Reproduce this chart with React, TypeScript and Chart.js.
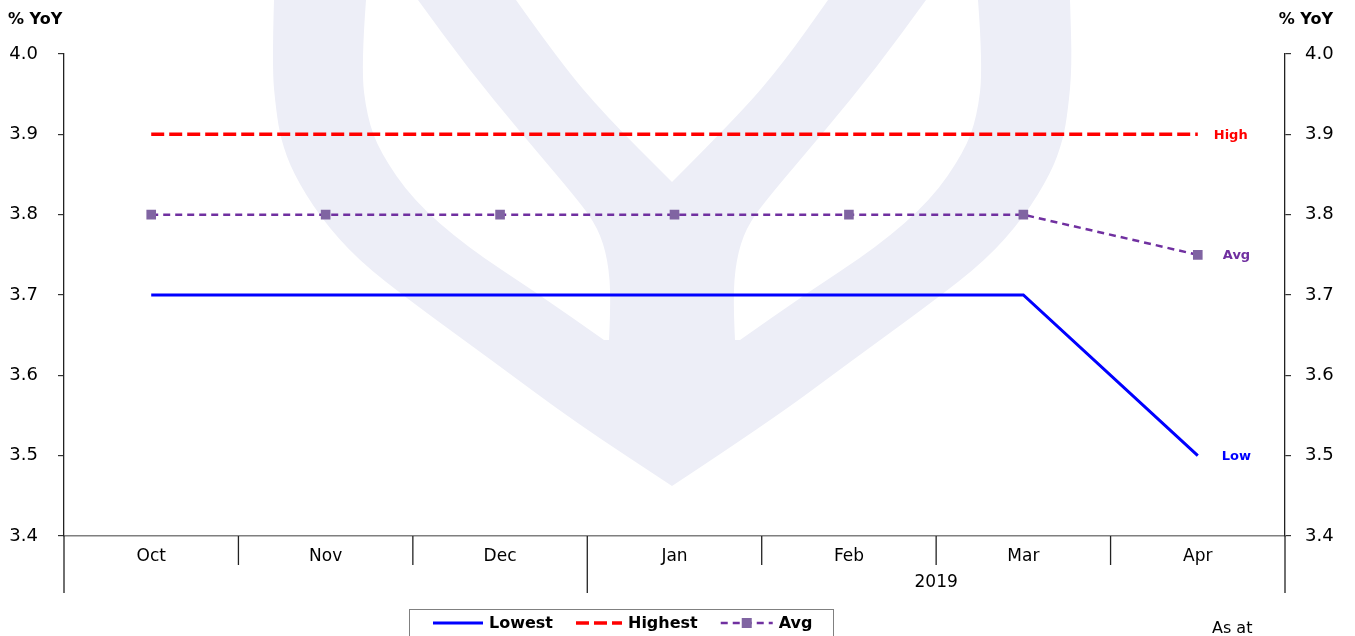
import React, { useEffect, useRef } from "react";
import { Chart, registerables } from "chart.js";

Chart.register(...registerables);

const categories = ["Oct", "Nov", "Dec", "Jan", "Feb", "Mar", "Apr"];
const lowestValues = [3.7, 3.7, 3.7, 3.7, 3.7, 3.7, 3.5];
const highestValues = [3.9, 3.9, 3.9, 3.9, 3.9, 3.9, 3.9];
const avgValues = [3.8, 3.8, 3.8, 3.8, 3.8, 3.8, 3.75];
const seriesNames = ["Lowest", "Highest", "Avg"];
const endLabels = ["Low", "High", "Avg"];
const yearLabels = ["2019"];
const yearStartIndex = [3];
const yMin = 3.4;
const yMax = 4.0;
const yStep = 0.1;
const axisTitle = "% YoY";
const footnote = "As at";

const FONT = "'DejaVu Sans', sans-serif";
const BLUE = "#0000FF";
const RED = "#FF0000";
const PURPLE = "#7030A0";
const MARKER = "#8064A2";

type P = [number, number];

function smoothTo(ctx: CanvasRenderingContext2D, pts: P[], move: boolean) {
  if (move) ctx.moveTo(pts[0][0], pts[0][1]);
  else ctx.lineTo(pts[0][0], pts[0][1]);
  for (let i = 1; i < pts.length - 1; i++) {
    const mx = (pts[i][0] + pts[i + 1][0]) / 2;
    const my = (pts[i][1] + pts[i + 1][1]) / 2;
    ctx.quadraticCurveTo(pts[i][0], pts[i][1], mx, my);
  }
  const last = pts[pts.length - 1];
  ctx.lineTo(last[0], last[1]);
}

function drawWatermark(ctx: CanvasRenderingContext2D) {
  const cx = 672;
  const mirror = (p: P): P => [2 * cx - p[0], p[1]];
  const outerLeft: P[] = [
    [274, 0], [272, 67], [276, 110], [281, 140], [293, 173], [320, 217], [358, 260],
    [413, 303], [494, 362], [575, 422], [672, 486],
  ];
  const lobeOuter: P[] = [
    [366, 0], [361, 67], [367, 117], [380, 152], [413, 200], [467, 247], [537, 293], [604, 340],
  ];
  const lobeInner: P[] = [
    [609, 340], [611, 300], [608, 260], [598, 228], [578, 200], [521, 133], [467, 67], [418, 0],
  ];
  const notchL: P[] = [[516, 0], [560, 62], [605, 115], [672, 182]];

  ctx.save();
  ctx.fillStyle = "#EDEEF7";
  ctx.beginPath();
  smoothTo(ctx, outerLeft, true);
  smoothTo(ctx, outerLeft.slice().reverse().map(mirror), false);
  ctx.closePath();

  smoothTo(ctx, lobeOuter, true);
  smoothTo(ctx, lobeInner, false);
  ctx.closePath();

  smoothTo(ctx, lobeOuter.map(mirror), true);
  smoothTo(ctx, lobeInner.map(mirror), false);
  ctx.closePath();

  smoothTo(ctx, notchL, true);
  smoothTo(ctx, notchL.slice().reverse().map(mirror), false);
  ctx.closePath();
  ctx.fill("evenodd");
  ctx.restore();
}

const decorPlugin = {
  id: "decor",
  beforeDraw(chart: any) {
    drawWatermark(chart.ctx);
  },
  afterDraw(chart: any) {
    const ctx: CanvasRenderingContext2D = chart.ctx;
    const ca = chart.chartArea;
    const xs = chart.scales.x;
    const ys = chart.scales.y;
    const n = categories.length;
    ctx.save();

    // category separators and group lines
    ctx.strokeStyle = "#222";
    ctx.lineWidth = 1.3;
    for (let i = 0; i <= n; i++) {
      let px: number;
      if (i === 0) px = ca.left;
      else if (i === n) px = ca.right;
      else px = (xs.getPixelForValue(i - 1) + xs.getPixelForValue(i)) / 2;
      const isGroup = i === 0 || i === n || yearStartIndex.includes(i);
      const bottom = ca.bottom + (isGroup ? 57 : 29);
      ctx.beginPath();
      ctx.moveTo(px, ca.bottom);
      ctx.lineTo(px, bottom);
      ctx.stroke();
    }

    // year labels
    ctx.fillStyle = "#000";
    ctx.font = `17px ${FONT}`;
    ctx.textAlign = "center";
    ctx.textBaseline = "middle";
    yearLabels.forEach((lbl, k) => {
      const s = yearStartIndex[k];
      const e = k + 1 < yearStartIndex.length ? yearStartIndex[k + 1] : n;
      const left = (xs.getPixelForValue(s - 1) + xs.getPixelForValue(s)) / 2;
      const right = e >= n ? ca.right : (xs.getPixelForValue(e - 1) + xs.getPixelForValue(e)) / 2;
      ctx.fillText(lbl, (left + right) / 2, ca.bottom + 47);
    });

    // axis titles
    ctx.font = `bold 16px ${FONT}`;
    ctx.textAlign = "left";
    ctx.fillText(axisTitle, 8, 20);
    ctx.textAlign = "right";
    ctx.fillText(axisTitle, 1333, 20);

    // end labels
    const offsets = [24, 16, 25];
    ctx.font = `bold 13px ${FONT}`;
    ctx.textAlign = "left";
    chart.data.datasets.forEach((ds: any, i: number) => {
      const last = ds.data.length - 1;
      const px = xs.getPixelForValue(last) + offsets[i];
      const py = ys.getPixelForValue(ds.data[last]);
      ctx.fillStyle = ds.labelColor;
      ctx.fillText(endLabels[i], px, py + 1);
    });

    // legend
    const ly = 623;
    ctx.strokeStyle = "#808080";
    ctx.lineWidth = 1;
    ctx.strokeRect(409.5, 609.5, 424, 40);
    ctx.font = `bold 16px ${FONT}`;
    let lx = 433;
    chart.data.datasets.forEach((ds: any, i: number) => {
      const len = i === 2 ? 52 : i === 1 ? 46 : 50;
      ctx.save();
      ctx.strokeStyle = ds.borderColor;
      ctx.lineWidth = ds.borderWidth;
      ctx.setLineDash(ds.borderDash || []);
      ctx.beginPath();
      ctx.moveTo(lx, ly);
      ctx.lineTo(lx + len, ly);
      ctx.stroke();
      ctx.restore();
      if (i === 2) {
        ctx.fillStyle = MARKER;
        ctx.fillRect(lx + len / 2 - 5, ly - 5, 10, 10);
      }
      ctx.fillStyle = "#000";
      ctx.textAlign = "left";
      ctx.fillText(seriesNames[i], lx + len + 6, ly + 1);
      lx += len + 6 + ctx.measureText(seriesNames[i]).width + 23;
    });

    // footnote
    ctx.font = `16px ${FONT}`;
    ctx.fillStyle = "#000";
    ctx.fillText(footnote, 1212, 629);
    ctx.restore();
  },
};

export default function App() {
  const ref = useRef<HTMLCanvasElement | null>(null);

  useEffect(() => {
    if (!ref.current) return;
    const yAxisCommon = (position: "left" | "right", padding: number, width: number) => ({
      type: "linear" as const,
      position,
      min: yMin,
      max: yMax,
      afterFit: (s: any) => {
        s.width = width;
      },
      ticks: {
        stepSize: yStep,
        padding,
        color: "#000",
        font: { family: FONT, size: 18 },
        callback: (v: any) => Number(v).toFixed(1),
      },
      grid: { display: true, drawOnChartArea: false, drawTicks: true, tickLength: 6, color: "#333", lineWidth: 1.2 },
      border: { display: true, color: "#222", width: 1.3 },
    });

    const chart = new Chart(ref.current, {
      type: "line",
      data: {
        labels: categories,
        datasets: [
          {
            label: seriesNames[0],
            data: lowestValues,
            borderColor: BLUE,
            labelColor: BLUE,
            borderWidth: 3,
            pointRadius: 0,
            tension: 0,
            fill: false,
            yAxisID: "y",
          } as any,
          {
            label: seriesNames[1],
            data: highestValues,
            borderColor: RED,
            labelColor: RED,
            borderWidth: 3.5,
            borderDash: [13, 5],
            pointRadius: 0,
            tension: 0,
            fill: false,
            yAxisID: "y",
          } as any,
          {
            label: seriesNames[2],
            data: avgValues,
            borderColor: PURPLE,
            labelColor: PURPLE,
            borderWidth: 2.5,
            borderDash: [7, 5],
            pointStyle: "rect",
            pointRadius: 6.8,
            pointBorderWidth: 0,
            pointBackgroundColor: MARKER,
            pointBorderColor: MARKER,
            tension: 0,
            fill: false,
            yAxisID: "y",
          } as any,
        ],
      },
      options: {
        responsive: false,
        animation: false,
        layout: { padding: { top: 54, left: 0, right: 0, bottom: 0 } },
        plugins: { legend: { display: false }, tooltip: { enabled: false } },
        scales: {
          x: {
            type: "category",
            offset: true,
            afterFit: (s: any) => {
              s.height = 100;
            },
            grid: { display: false },
            border: { display: true, color: "#7f7f7f", width: 1.6 },
            ticks: { padding: 2, color: "#000", font: { family: FONT, size: 17 }, maxRotation: 0 },
          },
          y: yAxisCommon("left", 20, 64),
          y2: yAxisCommon("right", 14, 70),
        },
      },
      plugins: [decorPlugin],
    });
    return () => chart.destroy();
  }, []);

  return (
    <div style={{ position: "absolute", left: 0, top: 0, width: 1355, height: 636, background: "#fff" }}>
      <canvas ref={ref} width={1355} height={636} style={{ display: "block" }} />
    </div>
  );
}
